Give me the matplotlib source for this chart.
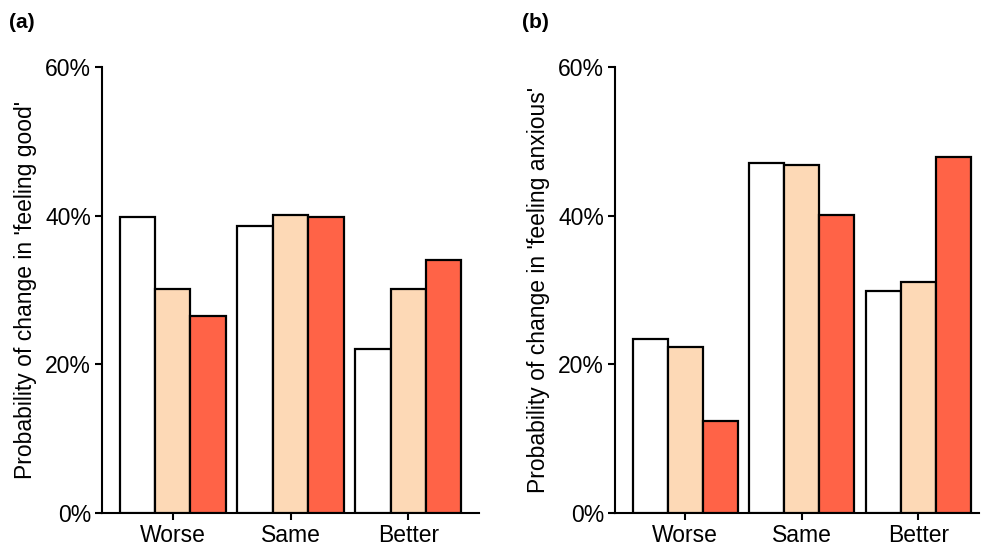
import matplotlib
matplotlib.use("Agg")
import matplotlib.pyplot as plt
import numpy as np
from matplotlib.ticker import FuncFormatter

plt.rcParams['font.family'] = ['Liberation Sans', 'DejaVu Sans']

categories = ["Worse", "Same", "Better"]
good_white = [39.8, 38.6, 22.1]
good_peach = [30.1, 40.1, 30.1]
good_red = [26.5, 39.8, 34.0]
anx_white = [23.4, 47.1, 29.9]
anx_peach = [22.3, 46.8, 31.1]
anx_red = [12.4, 40.1, 47.9]
yticks = [0, 20, 40, 60]

colors = ["#FFFFFF", "#FDD9B6", "#FF6347"]

fig = plt.figure(figsize=(9.85, 5.46), dpi=100)
W, H = 985, 546
ax1 = fig.add_axes([102 / W, 1 - 513 / H, (479 - 102) / W, (513 - 67) / H])
ax2 = fig.add_axes([615 / W, 1 - 513 / H, (979 - 615) / W, (513 - 67) / H])

x = np.arange(len(categories))
bw = 0.3
fs = 16.5

def draw(ax, series, ylabel, xlim):
    for i, (vals, c) in enumerate(zip(series, colors)):
        ax.bar(x + (i - 1) * bw, vals, width=bw, color=c, edgecolor="black", linewidth=1.6, zorder=3)
    ax.set_xlim(*xlim)
    ax.set_ylim(0, 60)
    ax.set_yticks(yticks)
    ax.yaxis.set_major_formatter(FuncFormatter(lambda v, p: f"{int(v)}%"))
    ax.set_xticks(x)
    ax.set_xticklabels(categories)
    for s in ["top", "right"]:
        ax.spines[s].set_visible(False)
    for s in ["left", "bottom"]:
        ax.spines[s].set_linewidth(1.5)
    ax.tick_params(axis="both", direction="out", width=1.5, length=5, labelsize=fs, pad=3)
    ax.set_ylabel(ylabel, fontsize=fs, labelpad=6)

draw(ax1, [good_white, good_peach, good_red], "Probability of change in 'feeling good'", (-0.6, 2.6))
draw(ax2, [anx_white, anx_peach, anx_red], "Probability of change in 'feeling anxious'", (-0.6, 2.52))

fig.text(9 / W, 1 - 22 / H, "(a)", fontsize=15, fontweight="bold", va="center", ha="left")
fig.text(522 / W, 1 - 22 / H, "(b)", fontsize=15, fontweight="bold", va="center", ha="left")

fig.savefig("out.png", dpi=100)
